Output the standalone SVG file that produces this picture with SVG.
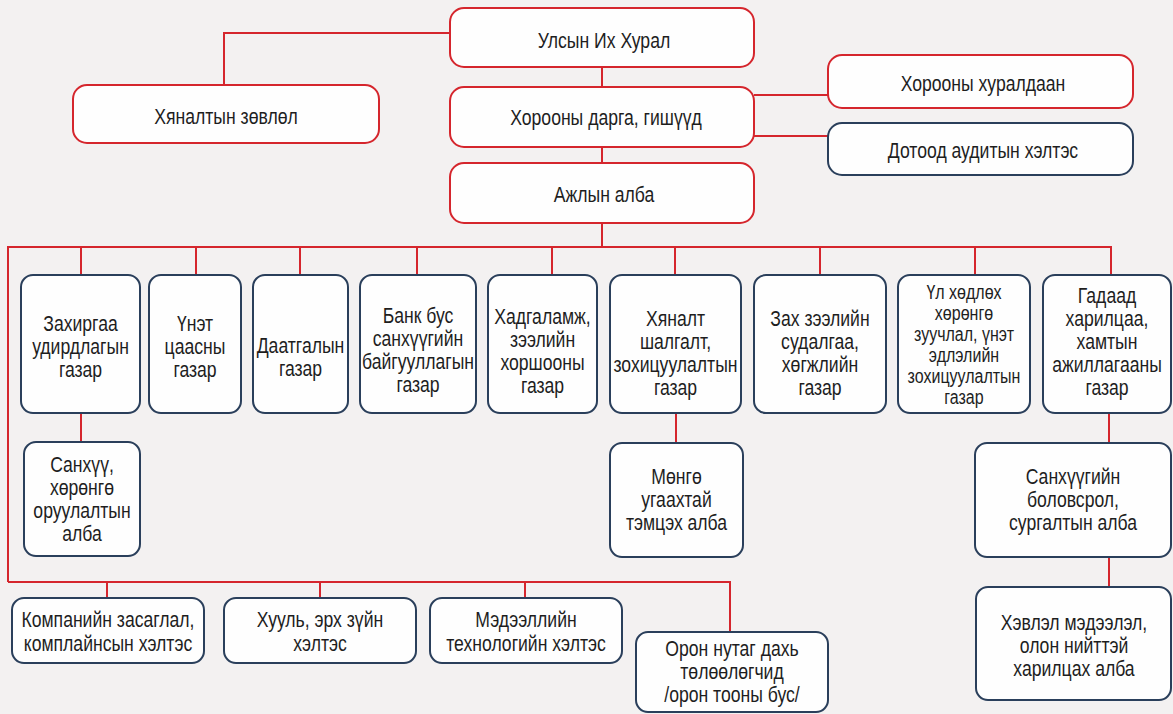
<svg xmlns="http://www.w3.org/2000/svg" width="1173" height="714" viewBox="0 0 1173 714">
<style>
.bg{fill:#f3f1f1}
.r{fill:#fefefe;stroke:#d5262d;stroke-width:2}
.b{fill:#fefefe;stroke:#2a3f5b;stroke-width:2}
.t{font-family:"Liberation Sans",Arial,sans-serif;font-size:22px;fill:#1e1e1e;text-anchor:middle}
.s{font-size:20px}
.c{fill:none;stroke:#d5262d;stroke-width:2}
</style>
<rect class="bg" x="0" y="0" width="1173" height="714"/>
<g id="connectors">
<path class="c" d="M450 33H224V85"/>
<path class="c" d="M602 67V87M602 147V163M602 223V247"/>
<path class="c" d="M754 95H828M754 136H828"/>
<path class="c" d="M8 582V247H1111V275"/>
<path class="c" d="M81 247V275M196 247V275M300 247V275M417 247V275M552 247V275M675 247V275M820 247V275M975 247V275"/>
<path class="c" d="M81 413V442M676 413V443M1109 413V443M1109 557V587"/>
<path class="c" d="M8 582H730V632M107 582V598M320 582V598M525 582V598"/>
</g>
<g id="n-ulsyn"><rect class="r" x="450" y="8" width="304" height="59" rx="14"/><text class="t" transform="matrix(0.8 0 0 1 604 0)"><tspan x="0" y="48">Улсын Их Хурал</tspan></text></g>
<g id="n-hyanaltyn"><rect class="r" x="73" y="85" width="306" height="58" rx="14"/><text class="t" transform="matrix(0.8 0 0 1 226 0)"><tspan x="0" y="124">Хяналтын зөвлөл</tspan></text></g>
<g id="n-darga"><rect class="r" x="450" y="87" width="304" height="60" rx="14"/><text class="t" transform="matrix(0.8 0 0 1 606 0)"><tspan x="0" y="125">Хорооны дарга, гишүүд</tspan></text></g>
<g id="n-ajlyn"><rect class="r" x="450" y="163" width="304" height="60" rx="14"/><text class="t" transform="matrix(0.8 0 0 1 604 0)"><tspan x="0" y="202">Ажлын алба</tspan></text></g>
<g id="n-huraldaan"><rect class="r" x="828" y="55" width="305" height="53" rx="14"/><text class="t" transform="matrix(0.8 0 0 1 983 0)"><tspan x="0" y="91">Хорооны хуралдаан</tspan></text></g>
<g id="n-audit"><rect class="b" x="828" y="123" width="305" height="52" rx="14"/><text class="t" transform="matrix(0.8 0 0 1 983 0)"><tspan x="0" y="158">Дотоод аудитын хэлтэс</tspan></text></g>
<g id="n-zahirgaa"><rect class="b" x="21" y="275" width="119" height="138" rx="12"/><text class="t" transform="matrix(0.8 0 0 1 80.5 0)"><tspan x="0" y="331">Захиргаа</tspan><tspan x="0" y="354">удирдлагын</tspan><tspan x="0" y="377">газар</tspan></text></g>
<g id="n-unet"><rect class="b" x="149" y="275" width="92" height="138" rx="12"/><text class="t" transform="matrix(0.8 0 0 1 195 0)"><tspan x="0" y="331">Үнэт</tspan><tspan x="0" y="354">цаасны</tspan><tspan x="0" y="377">газар</tspan></text></g>
<g id="n-daatgal"><rect class="b" x="253" y="275" width="95" height="138" rx="12"/><text class="t" transform="matrix(0.8 0 0 1 300.5 0)"><tspan x="0" y="353">Даатгалын</tspan><tspan x="0" y="376">газар</tspan></text></g>
<g id="n-bank"><rect class="b" x="360" y="275" width="116" height="138" rx="12"/><text class="t" transform="matrix(0.8 0 0 1 418 0)"><tspan x="0" y="323">Банк бус</tspan><tspan x="0" y="346">санхүүгийн</tspan><tspan x="0" y="369">байгууллагын</tspan><tspan x="0" y="392">газар</tspan></text></g>
<g id="n-hadgalamj"><rect class="b" x="488" y="275" width="109" height="138" rx="12"/><text class="t" transform="matrix(0.8 0 0 1 542.5 0)"><tspan x="0" y="324">Хадгаламж,</tspan><tspan x="0" y="347">зээлийн</tspan><tspan x="0" y="370">хоршооны</tspan><tspan x="0" y="393">газар</tspan></text></g>
<g id="n-hyanalt"><rect class="b" x="610" y="275" width="131" height="138" rx="12"/><text class="t" transform="matrix(0.8 0 0 1 675.5 0)"><tspan x="0" y="326">Хяналт</tspan><tspan x="0" y="349">шалгалт,</tspan><tspan x="0" y="372">зохицуулалтын</tspan><tspan x="0" y="395">газар</tspan></text></g>
<g id="n-zah"><rect class="b" x="754" y="275" width="132" height="138" rx="12"/><text class="t" transform="matrix(0.8 0 0 1 820 0)"><tspan x="0" y="326">Зах зээлийн</tspan><tspan x="0" y="349">судалгаа,</tspan><tspan x="0" y="372">хөгжлийн</tspan><tspan x="0" y="395">газар</tspan></text></g>
<g id="n-ul"><rect class="b" x="898" y="275" width="132" height="138" rx="12"/><text class="t s" transform="matrix(0.8 0 0 1 964 0)"><tspan x="0" y="299">Үл хөдлөх</tspan><tspan x="0" y="320">хөрөнгө</tspan><tspan x="0" y="341">зуучлал, үнэт</tspan><tspan x="0" y="362">эдлэлийн</tspan><tspan x="0" y="383">зохицуулалтын</tspan><tspan x="0" y="404">газар</tspan></text></g>
<g id="n-gadaad"><rect class="b" x="1043" y="275" width="128" height="138" rx="12"/><text class="t" transform="matrix(0.8 0 0 1 1107 0)"><tspan x="0" y="303">Гадаад</tspan><tspan x="0" y="326">харилцаа,</tspan><tspan x="0" y="349">хамтын</tspan><tspan x="0" y="372">ажиллагааны</tspan><tspan x="0" y="395">газар</tspan></text></g>
<g id="n-sanhuu"><rect class="b" x="24" y="442" width="116" height="114" rx="12"/><text class="t" transform="matrix(0.8 0 0 1 82 0)"><tspan x="0" y="472">Санхүү,</tspan><tspan x="0" y="495">хөрөнгө</tspan><tspan x="0" y="518">оруулалтын</tspan><tspan x="0" y="541">алба</tspan></text></g>
<g id="n-mongo"><rect class="b" x="610" y="443" width="133" height="114" rx="12"/><text class="t" transform="matrix(0.8 0 0 1 676.5 0)"><tspan x="0" y="484">Мөнгө</tspan><tspan x="0" y="507">угаахтай</tspan><tspan x="0" y="530">тэмцэх алба</tspan></text></g>
<g id="n-bolovsrol"><rect class="b" x="975" y="443" width="196" height="114" rx="12"/><text class="t" transform="matrix(0.8 0 0 1 1073 0)"><tspan x="0" y="484">Санхүүгийн</tspan><tspan x="0" y="507">боловсрол,</tspan><tspan x="0" y="530">сургалтын алба</tspan></text></g>
<g id="n-hevlel"><rect class="b" x="976" y="587" width="195" height="113" rx="12"/><text class="t" transform="matrix(0.8 0 0 1 1074 0)"><tspan x="0" y="630">Хэвлэл мэдээлэл,</tspan><tspan x="0" y="653">олон нийттэй</tspan><tspan x="0" y="676">харилцах алба</tspan></text></g>
<g id="n-kompani"><rect class="b" x="12" y="598" width="192" height="65" rx="12"/><text class="t" transform="matrix(0.8 0 0 1 108 0)"><tspan x="0" y="627">Компанийн засаглал,</tspan><tspan x="0" y="651">комплайнсын хэлтэс</tspan></text></g>
<g id="n-huul"><rect class="b" x="224" y="598" width="192" height="65" rx="12"/><text class="t" transform="matrix(0.8 0 0 1 320 0)"><tspan x="0" y="627">Хууль, эрх зүйн</tspan><tspan x="0" y="651">хэлтэс</tspan></text></g>
<g id="n-medeelel"><rect class="b" x="430" y="598" width="192" height="65" rx="12"/><text class="t" transform="matrix(0.8 0 0 1 526 0)"><tspan x="0" y="627">Мэдээллийн</tspan><tspan x="0" y="651">технологийн хэлтэс</tspan></text></g>
<g id="n-oron"><rect class="b" x="636" y="632" width="192" height="80" rx="12"/><text class="t" transform="matrix(0.8 0 0 1 732 0)"><tspan x="0" y="656">Орон нутаг дахь</tspan><tspan x="0" y="679">төлөөлөгчид</tspan><tspan x="0" y="702">/орон тооны бус/</tspan></text></g>
</svg>
